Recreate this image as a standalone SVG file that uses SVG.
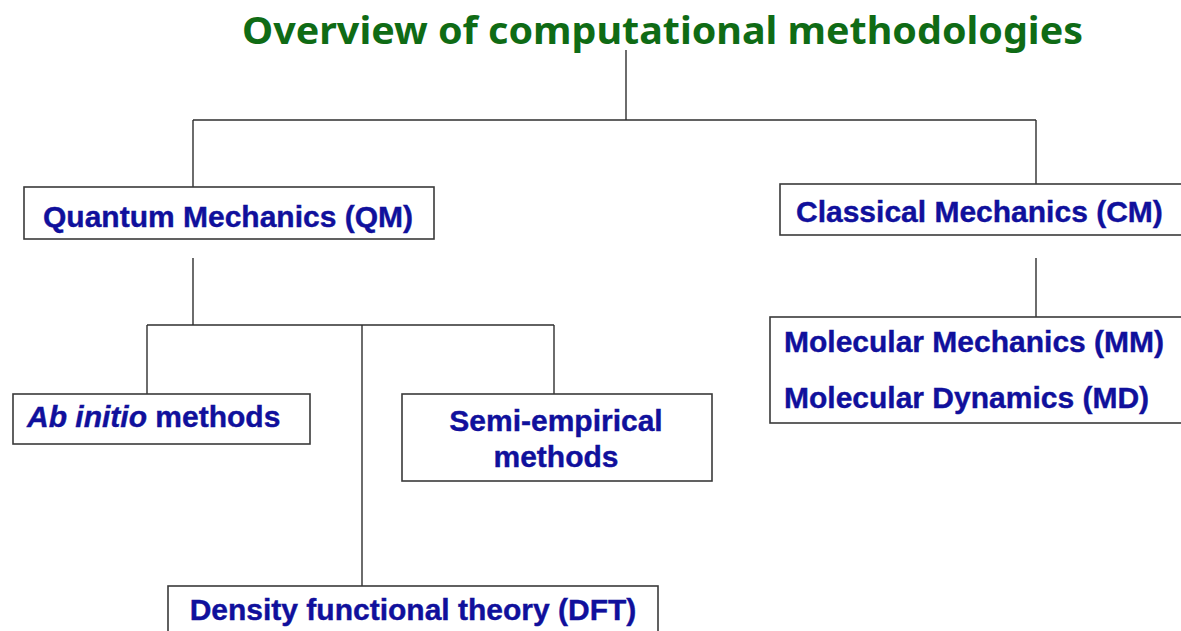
<svg xmlns="http://www.w3.org/2000/svg" width="1181" height="631" viewBox="0 0 1181 631">
<style>
.box{fill:#fff;stroke:#3a3a3a;stroke-width:1.6}
.lbl{font-family:"Liberation Sans",Arial,sans-serif;font-weight:bold;font-size:30px;fill:#10109c;stroke:#10109c;stroke-width:0.4}
.title{font-family:"Noto Sans","Open Sans",sans-serif;font-weight:bold;font-size:38px;fill:#0f6b15}
.conn line{stroke:#2e2e2e;stroke-width:1.4}
</style>
<rect width="1181" height="631" fill="#fff"/>
<text class="title" x="242" y="44" textLength="841" lengthAdjust="spacingAndGlyphs">Overview of computational methodologies</text>
<g id="connectors" class="conn">
<line x1="626" y1="50" x2="626" y2="120"/>
<line x1="193" y1="120" x2="1036" y2="120"/>
<line x1="193" y1="120" x2="193" y2="187"/>
<line x1="1036" y1="120" x2="1036" y2="184"/>
<line x1="193" y1="258" x2="193" y2="325"/>
<line x1="147" y1="325" x2="554" y2="325"/>
<line x1="147" y1="325" x2="147" y2="394"/>
<line x1="362" y1="325" x2="362" y2="586"/>
<line x1="554" y1="325" x2="554" y2="394"/>
<line x1="1036" y1="258" x2="1036" y2="325"/>
</g>
<g id="qm">
<rect class="box" x="24" y="187" width="410" height="52"/>
<text class="lbl" x="43" y="227">Quantum Mechanics (QM)</text>
</g>
<g id="cm">
<rect class="box" x="780" y="184" width="410" height="51"/>
<text class="lbl" x="796" y="222">Classical Mechanics (CM)</text>
</g>
<g id="abinitio">
<rect class="box" x="13" y="394" width="297" height="50"/>
<text class="lbl" x="27" y="427"><tspan font-style="italic">Ab initio</tspan> methods</text>
</g>
<g id="semi">
<rect class="box" x="402" y="394" width="310" height="87"/>
<text class="lbl" x="556" y="431" text-anchor="middle">Semi-empirical</text>
<text class="lbl" x="556" y="467" text-anchor="middle">methods</text>
</g>
<g id="dft">
<rect class="box" x="168" y="586" width="490" height="60"/>
<text class="lbl" x="413" y="620" text-anchor="middle">Density functional theory (DFT)</text>
</g>
<g id="mm">
<rect class="box" x="770" y="317" width="420" height="106"/>
<text class="lbl" x="784" y="352">Molecular Mechanics (MM)</text>
<text class="lbl" x="784" y="408">Molecular Dynamics (MD)</text>
</g>
</svg>
